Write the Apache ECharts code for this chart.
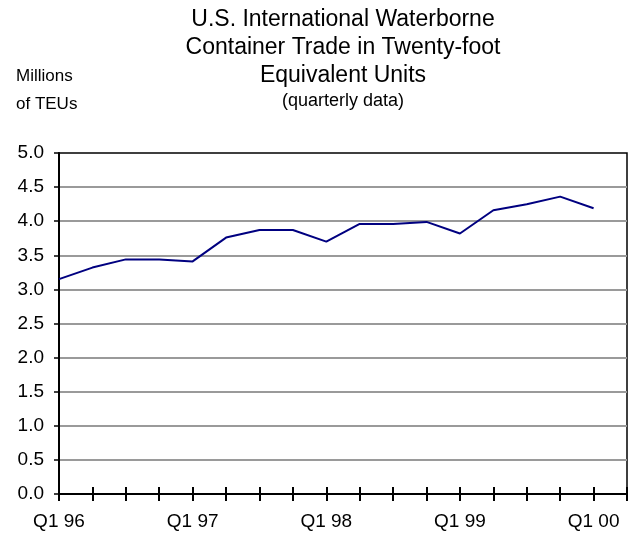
<!DOCTYPE html>
<html>
<head>
<meta charset="utf-8">
<script src="https://cdn.jsdelivr.net/npm/echarts@6/dist/echarts.min.js"></script>
<style>
  html, body { margin: 0; padding: 0; background: #fff; }
  #chart { width: 629px; height: 538px; }
</style>
</head>
<body>
<div id="chart"></div>
<script>
// quarters Q1 96 .. Q1 00, plus one empty slot so the axis runs past the last point
const quarters = [
    'Q1 96', 'Q2 96', 'Q3 96', 'Q4 96',
    'Q1 97', 'Q2 97', 'Q3 97', 'Q4 97',
    'Q1 98', 'Q2 98', 'Q3 98', 'Q4 98',
    'Q1 99', 'Q2 99', 'Q3 99', 'Q4 99',
    'Q1 00', 'Q2 00'
];
// millions of TEUs
const teus = [3.15, 3.32, 3.44, 3.44, 3.41, 3.76, 3.87, 3.87, 3.70, 3.96, 3.96, 3.99, 3.82, 4.16, 4.25, 4.36, 4.19];
const titleLines = ['U.S. International Waterborne', 'Container Trade in Twenty-foot', 'Equivalent Units'];
const subTitle = '(quarterly data)';
const unitLabel = ['Millions', 'of TEUs'];

const font = 'Liberation Sans, Arial, sans-serif';
const myChart = echarts.init(document.getElementById('chart'));

const tickStyle = { color: '#000', width: 2 };

const option = {
    backgroundColor: '#fff',
    animation: false,
    title: [
        {
            text: titleLines.join('\n'),
            subtext: subTitle,
            left: 338,
            top: 1,
            textAlign: 'center',
            itemGap: 1,
            textStyle: { fontFamily: font, fontSize: 23, fontWeight: 'normal', color: '#000', lineHeight: 28 },
            subtextStyle: { fontFamily: font, fontSize: 18, color: '#000', lineHeight: 20 }
        },
        {
            text: unitLabel.join('\n'),
            left: 11,
            top: 57,
            textStyle: { fontFamily: font, fontSize: 17, fontWeight: 'normal', color: '#000', lineHeight: 28 }
        }
    ],
    grid: {
        left: 59, right: 2, top: 153, bottom: 44,
        show: true, borderColor: '#000', borderWidth: 1.5
    },
    xAxis: [
        {
            type: 'category',
            data: quarters,
            boundaryGap: false,
            axisLine: { lineStyle: { color: '#000', width: 2 } },
            axisTick: { interval: 0, length: 7, lineStyle: tickStyle },
            axisLabel: {
                interval: 3, color: '#000', fontFamily: font, fontSize: 19, margin: 18
            },
            splitLine: { show: false }
        },
        {
            // second copy only for the upper half of the crossing ticks
            type: 'category',
            data: quarters,
            position: 'bottom',
            boundaryGap: false,
            axisLine: { show: false },
            axisTick: { interval: 0, inside: true, length: 7, lineStyle: tickStyle },
            axisLabel: { show: false }
        }
    ],
    yAxis: {
        type: 'value',
        min: 0,
        max: 5,
        interval: 0.5,
        axisLine: { show: true, lineStyle: { color: '#000', width: 2 } },
        axisTick: { show: true, length: 5, lineStyle: { color: '#000', width: 1.5 } },
        axisLabel: {
            color: '#000', fontFamily: font, fontSize: 19, margin: 15,
            formatter: v => v.toFixed(1)
        },
        splitLine: {
            show: true, showMinLine: false, showMaxLine: false,
            lineStyle: { color: '#9a9a9a', width: 2 }
        }
    },
    series: [
        {
            type: 'line',
            data: teus,
            symbol: 'none',
            lineStyle: { color: '#000080', width: 2 },
            z: 5
        }
    ]
};

myChart.setOption(option);
</script>
</body>
</html>
